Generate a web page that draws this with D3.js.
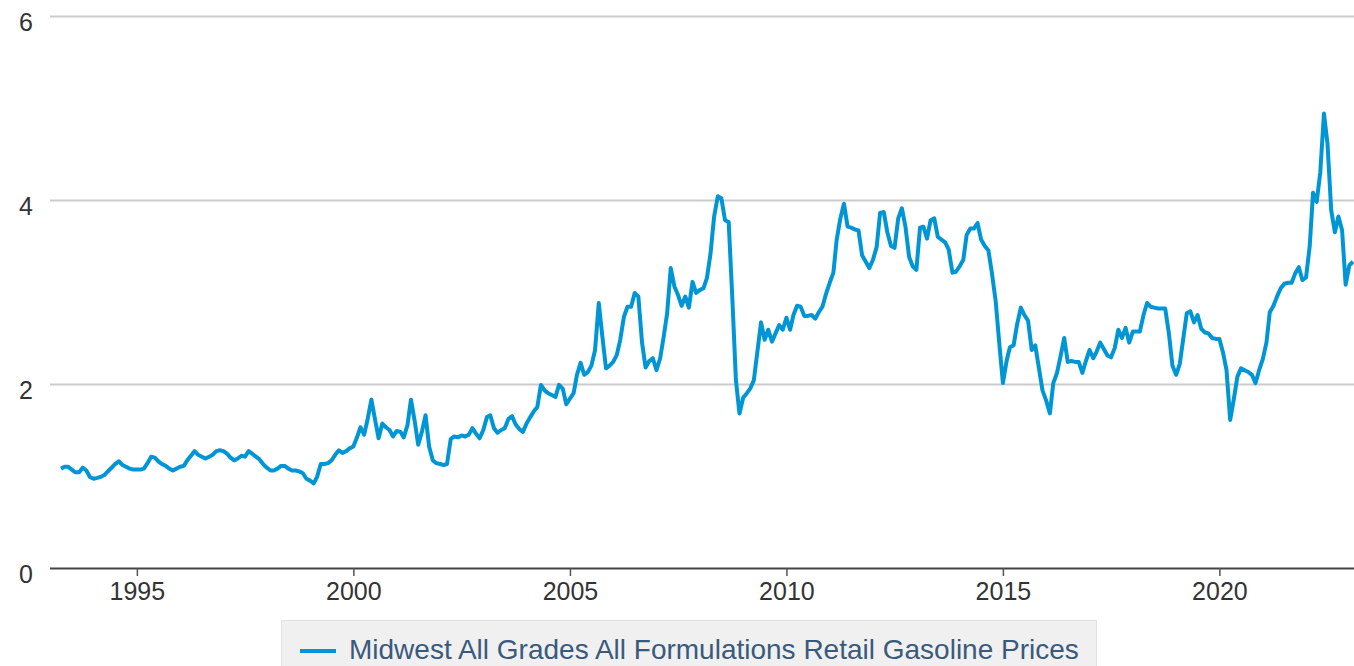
<!DOCTYPE html>
<html>
<head>
<meta charset="utf-8">
<script src="https://cdn.jsdelivr.net/npm/d3@7"></script>
<style>
  body { margin: 0; background: #fff; }
  svg { display: block; font-family: "Liberation Sans", Arial, sans-serif; }
</style>
</head>
<body>
<div class="chart"></div>
<script>
// Monthly series, first value is April 1993
var seriesName = "Midwest All Grades All Formulations Retail Gasoline Prices";
var startYear = 1993;
var startMonth = 3; // April (0-based)

var prices = [
  1.08, 1.10, 1.10, 1.07, 1.04, 1.04, 1.09, 1.06, 0.99,                   // 1993
  0.97, 0.98, 0.99, 1.01, 1.05, 1.09, 1.13, 1.16, 1.12, 1.10, 1.08, 1.07, // 1994
  1.07, 1.07, 1.08, 1.14, 1.21, 1.20, 1.16, 1.13, 1.11, 1.08, 1.06, 1.08, // 1995
  1.10, 1.11, 1.17, 1.22, 1.27, 1.23, 1.21, 1.19, 1.21, 1.23, 1.27, 1.28, // 1996
  1.27, 1.24, 1.20, 1.17, 1.19, 1.22, 1.21, 1.27, 1.24, 1.21, 1.18, 1.13, // 1997
  1.09, 1.06, 1.06, 1.08, 1.11, 1.11, 1.08, 1.06, 1.06, 1.05, 1.03, 0.97, // 1998
  0.95, 0.92, 0.99, 1.13, 1.13, 1.14, 1.17, 1.23, 1.28, 1.25, 1.27, 1.30, // 1999
  1.32, 1.42, 1.53, 1.45, 1.62, 1.83, 1.62, 1.41, 1.57, 1.53, 1.50, 1.43, // 2000
  1.49, 1.48, 1.42, 1.55, 1.83, 1.60, 1.34, 1.48, 1.66, 1.32, 1.17, 1.14, // 2001
  1.13, 1.12, 1.13, 1.40, 1.43, 1.42, 1.44, 1.43, 1.45, 1.52, 1.46, 1.41, // 2002
  1.50, 1.64, 1.66, 1.52, 1.47, 1.50, 1.52, 1.62, 1.65, 1.56, 1.51, 1.48, // 2003
  1.57, 1.64, 1.70, 1.75, 1.99, 1.93, 1.90, 1.88, 1.86, 1.99, 1.95, 1.78, // 2004
  1.84, 1.90, 2.10, 2.23, 2.10, 2.13, 2.20, 2.37, 2.88, 2.52, 2.17, 2.20, // 2005
  2.24, 2.32, 2.48, 2.73, 2.84, 2.84, 2.99, 2.95, 2.45, 2.18, 2.25, 2.28, // 2006
  2.15, 2.28, 2.50, 2.77, 3.26, 3.06, 2.97, 2.85, 2.95, 2.83, 3.11, 2.99, // 2007
  3.02, 3.04, 3.15, 3.42, 3.82, 4.04, 4.02, 3.78, 3.76, 2.95, 2.04, 1.68, // 2008
  1.85, 1.90, 1.95, 2.04, 2.35, 2.67, 2.48, 2.59, 2.46, 2.55, 2.64, 2.59, // 2009
  2.72, 2.59, 2.75, 2.85, 2.84, 2.74, 2.74, 2.75, 2.71, 2.78, 2.84, 2.98, // 2010
  3.10, 3.21, 3.57, 3.80, 3.96, 3.71, 3.70, 3.68, 3.67, 3.40, 3.33, 3.26, // 2011
  3.35, 3.49, 3.86, 3.87, 3.65, 3.50, 3.48, 3.80, 3.91, 3.71, 3.38, 3.28, // 2012
  3.24, 3.70, 3.71, 3.58, 3.78, 3.80, 3.60, 3.57, 3.54, 3.46, 3.21, 3.22, // 2013
  3.28, 3.35, 3.62, 3.69, 3.69, 3.75, 3.57, 3.50, 3.45, 3.20, 2.90, 2.45, // 2014
  2.01, 2.25, 2.40, 2.42, 2.65, 2.83, 2.75, 2.69, 2.37, 2.42, 2.17, 1.93, // 2015
  1.82, 1.68, 2.01, 2.12, 2.30, 2.50, 2.24, 2.25, 2.24, 2.24, 2.12, 2.25, // 2016
  2.37, 2.28, 2.35, 2.45, 2.38, 2.31, 2.29, 2.39, 2.59, 2.50, 2.61, 2.45, // 2017
  2.57, 2.57, 2.57, 2.75, 2.88, 2.84, 2.83, 2.82, 2.82, 2.82, 2.55, 2.20, // 2018
  2.10, 2.22, 2.48, 2.77, 2.79, 2.67, 2.75, 2.60, 2.56, 2.55, 2.50, 2.49, // 2019
  2.49, 2.34, 2.15, 1.61, 1.83, 2.08, 2.17, 2.15, 2.13, 2.10, 2.01, 2.15, // 2020
  2.27, 2.45, 2.78, 2.85, 2.95, 3.04, 3.09, 3.10, 3.10, 3.20, 3.27, 3.13, // 2021
  3.16, 3.50, 4.08, 3.98, 4.30, 4.94, 4.61, 3.89, 3.65, 3.82, 3.67, 3.08, // 2022
  3.29, 3.33                                                              // 2023
];

var yTicks = [0, 2, 4, 6];
var xTickYears = [1995, 2000, 2005, 2010, 2015, 2020];

var data = prices.map(function(v, i) {
    return { date: new Date(startYear, startMonth + i, 1), value: v };
});

var svgWidth = 1354;
var svgHeight = 666;
var plotLeft = 50;

var svg = d3.select(".chart")
    .append("svg")
    .attr("width", svgWidth)
    .attr("height", svgHeight);

var xScale = d3.scaleTime()
    .domain([data[0].date, data[data.length - 1].date])
    .range([61, 1353]);

var yScale = d3.scaleLinear()
    .domain([0, 6])
    .range([568, 16]);

// gridlines + y labels
var leftAxis = d3.axisLeft(yScale)
    .tickValues(yTicks)
    .tickSize(-(svgWidth - plotLeft))
    .tickPadding(17)
    .tickFormat(d3.format("d"));

var yAxisG = svg.append("g")
    .attr("transform", "translate(" + plotLeft + ",0)")
    .call(leftAxis);

yAxisG.select(".domain").remove();
yAxisG.selectAll(".tick line")
    .attr("stroke", "#cccccc")
    .attr("stroke-width", 2);
yAxisG.selectAll(".tick text")
    .attr("dy", "14px")
    .attr("fill", "#333")
    .attr("font-size", "25px");
yAxisG.selectAll(".tick")
    .filter(function(d) { return d === 0; })
    .select("line")
    .attr("stroke", "#444")
    .attr("stroke-width", 2);

// x axis
var bottomAxis = d3.axisBottom(xScale)
    .tickValues(xTickYears.map(function(y) { return new Date(y, 0, 1); }))
    .tickSize(8)
    .tickPadding(6)
    .tickFormat(d3.timeFormat("%Y"));

var xAxisG = svg.append("g")
    .attr("transform", "translate(0," + yScale(0) + ")")
    .call(bottomAxis);

xAxisG.select(".domain").remove();
xAxisG.selectAll(".tick line")
    .attr("stroke", "#555")
    .attr("stroke-width", 1.5);
xAxisG.selectAll(".tick text")
    .attr("fill", "#333")
    .attr("font-size", "25px");

// the price line
var line = d3.line()
    .x(function(d) { return xScale(d.date); })
    .y(function(d) { return yScale(d.value); });

svg.append("path")
    .datum(data)
    .attr("fill", "none")
    .attr("stroke", "#0096d6")
    .attr("stroke-width", 4)
    .attr("stroke-linejoin", "round")
    .attr("d", line);

// legend
var legend = svg.append("g");

legend.append("rect")
    .attr("x", 281.5)
    .attr("y", 620.5)
    .attr("width", 815)
    .attr("height", 60)
    .attr("fill", "#f0f0f0")
    .attr("stroke", "#e2e2e2");

legend.append("line")
    .attr("x1", 300)
    .attr("x2", 336)
    .attr("y1", 651)
    .attr("y2", 651)
    .attr("stroke", "#0096d6")
    .attr("stroke-width", 4);

legend.append("text")
    .attr("x", 349)
    .attr("y", 659)
    .attr("font-size", "28px")
    .attr("fill", "#3a5a7c")
    .text(seriesName);
</script>
</body>
</html>
